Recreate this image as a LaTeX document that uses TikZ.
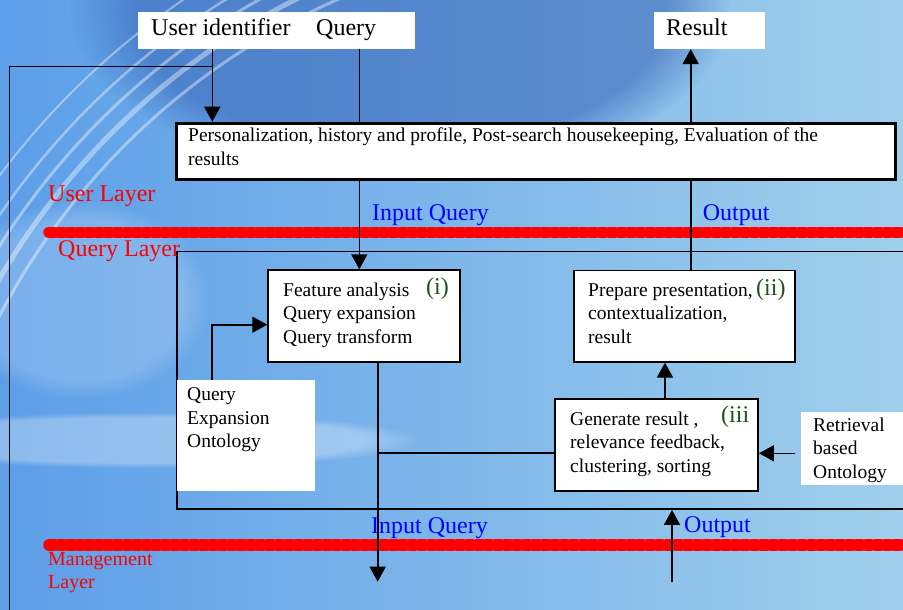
\documentclass[tikz,border=0pt]{standalone}
\usepackage{fontspec}
\setmainfont{Liberation Serif}
\usetikzlibrary{arrows.meta,fadings}
\definecolor{bgL}{HTML}{5C9EE8}
\definecolor{bgR}{HTML}{A0CFEC}
\definecolor{bgD}{HTML}{3A69BA}
\definecolor{redL}{HTML}{FF0000}
\definecolor{blueT}{HTML}{0000FF}
\definecolor{greenT}{HTML}{1A551A}
\begin{document}
\begin{tikzpicture}[x=1pt,y=-1pt,
  box/.style={draw=black, line width=1.6pt, fill=white, anchor=north west, inner sep=0pt},
  wbox/.style={fill=white, anchor=north west, inner sep=0pt},
  conn/.style={line width=1.6pt, draw=black},
  arr/.style={conn, -{Triangle[length=15pt,width=16pt]}},
  big/.style={font=\fontsize{24}{28}\selectfont, anchor=base west, inner sep=0pt},
  small/.style={font=\fontsize{19.5}{23.5}\selectfont, anchor=north west, inner sep=0pt, align=left},
  redline/.style={draw=redL, line width=11.5pt, line cap=round, dash pattern=on 5pt off 4.5pt},
  swoosh/.style={draw=white, opacity=0.4}
]
\useasboundingbox (0,0) rectangle (903,610);
\clip (0,0) rectangle (903,610);
% background
\fill[left color=bgL, right color=bgR] (0,0) rectangle (903,610);
\fill[bgD, opacity=0.6, path fading=circle with fuzzy edge 20 percent] (400,10) ellipse [x radius=330, y radius=170];
\fill[white, opacity=0.3, path fading=circle with fuzzy edge 20 percent] (140,440) ellipse [x radius=280, y radius=28];
\fill[white, opacity=0.18, path fading=circle with fuzzy edge 20 percent] (80,300) ellipse [x radius=130, y radius=100];
\foreach \r/\w in {700/3,718/5,735/3,752/2.5,775/2}{
  \draw[swoosh, line width=\w pt] (620,640) ++(192:\r) arc[start angle=192, end angle=256, radius=\r];
}
% red layer separators
\coordinate (r1a) at (49,232.3); \coordinate (r1b) at (920,232.3);
\coordinate (r2a) at (49,545); \coordinate (r2b) at (920,545);
\draw[redline] (r1a) -- (r1b);
\draw[redline] (r2a) -- (r2b);
% query layer frame
\node[draw=black, line width=1.6pt, anchor=north west, inner sep=0pt, minimum width=760pt, minimum height=257.6pt] (ql) at (176,250.7) {};
% boxes
\node[wbox, minimum width=277pt, minimum height=36.7pt] (top) at (138,12) {};
\node[wbox, minimum width=111pt, minimum height=36.7pt] (res) at (654,12) {};
\node[box, line width=2.8pt, minimum width=719pt, minimum height=56pt] (pers) at (175,121.7) {};
\node[box, minimum width=191.7pt, minimum height=91.7pt] (fa) at (267.3,269.3) {};
\node[wbox, minimum width=138.7pt, minimum height=110.7pt] (onto) at (176.3,380) {};
\node[box, minimum width=221.3pt, minimum height=91.3pt] (pp) at (573,269.7) {};
\node[box, minimum width=203pt, minimum height=91.7pt] (gen) at (554.3,398.3) {};
\node[wbox, minimum width=110pt, minimum height=73.4pt] (ret) at (801,411.3) {};
% texts
\node[big] (tuid) at (151,36) {User identifier};
\node[big] (tqry) at (316,36) {Query};
\node[big] (tres) at (666,36) {Result};
\node[small, font=\fontsize{19.5}{24}\selectfont] (tpers) at (188,124.9) {\strut Personalization, history and profile, Post-search housekeeping, Evaluation of the\\results};
\node[small] (tfa) at (283,279.5) {\strut Feature analysis\\Query expansion\\Query transform};
\node[small] (tonto) at (187,384.2) {\strut Query\\Expansion\\Ontology};
\node[small] (tpp) at (588,279.5) {\strut Prepare presentation,\\contextualization,\\result};
\node[small] (tgen) at (570,408.5) {\strut Generate result ,\\relevance feedback,\\clustering, sorting};
\node[small] (tret) at (813,414.5) {\strut Retrieval\\based\\Ontology};
\node[big, text=greenT] (li) at (426,294) {(i)};
\node[big, text=greenT] (lii) at (756,295.7) {(ii)};
\node[big, text=greenT] (liii) at (721,422) {(iii};
\node[big, text=redL] (lul) at (48,201) {User Layer};
\node[big, text=redL] (lql) at (58,256) {Query Layer};
\node[small, font=\fontsize{20}{22.6}\selectfont, text=redL] (lml) at (48,549.9) {\strut Management\\Layer};
\node[big, text=blueT] (iq1) at (372,220) {Input Query};
\node[big, text=blueT] (out1) at (702.7,220) {Output};
\node[big, text=blueT] (iq2) at (371,533) {Input Query};
\node[big, text=blueT] (out2) at (684,532.7) {Output};
% connector coordinates
\coordinate (c1) at (212.3,66.7);
\coordinate (lb) at (9.3,615);
\coordinate (qx) at (359.3,0);
\coordinate (rx) at (690.7,0);
\coordinate (ox) at (212,324.7);
\coordinate (fx) at (377.7,581.7);
\coordinate (hy) at (0,452.7);
\coordinate (gx) at (665,0);
\coordinate (rs) at (795,453.3);
\coordinate (ob) at (672,582);
% connectors
\draw[arr] (top.south -| c1) -- (pers.north -| c1);
\draw[conn] (c1) -| (lb);
\draw[conn] (top.south -| qx) -- (pers.north -| qx);
\draw[arr] (pers.south -| qx) -- (fa.north -| qx);
\draw[arr] (pers.north -| rx) -- (res.south -| rx);
\draw[conn] (pers.south -| rx) -- (pp.north -| rx);
\draw[arr] (onto.north -| ox) |- (fa.west |- ox);
\draw[arr] (fa.south -| fx) -- (fx);
\draw[conn] (fx |- hy) -- (gen.west |- hy);
\draw[arr] (gen.north -| gx) -- (pp.south -| gx);
\draw[arr] (rs) -- (gen.east |- rs);
\draw[arr] (ob) -- (ql.south -| ob);
\end{tikzpicture}
\end{document}
